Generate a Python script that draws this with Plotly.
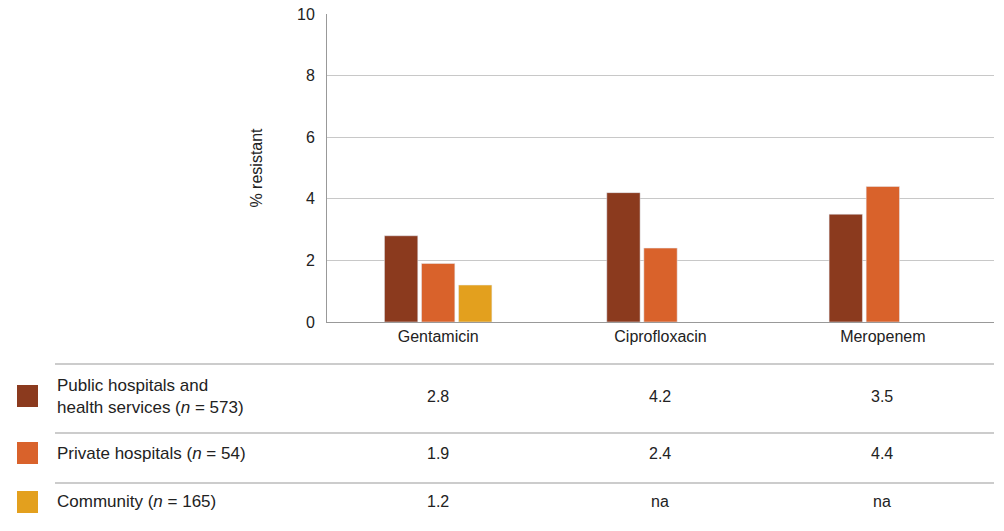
import plotly.graph_objects as go

categories = ["Gentamicin", "Ciprofloxacin", "Meropenem"]
series_names = ["Public hospitals and<br>health services (<i>n</i> = 573)",
                "Private hospitals (<i>n</i> = 54)",
                "Community (<i>n</i> = 165)"]
public_vals = [2.8, 4.2, 3.5]
private_vals = [1.9, 2.4, 4.4]
community_vals = [1.2, None, None]
colors = ["#8B3A1E", "#D9622B", "#E3A01E"]

OFF = 8  # page body margin
W, H = 1004 - OFF, 531 - OFF
L, R, T, B = 327 - OFF, 10, 6, 209
pw, ph = W - L - R, H - T - B

def px(x):  # page pixel -> paper x
    return (x - OFF - L) / pw

def py(y):  # page pixel -> paper y
    return (H - B - (y - OFF)) / ph

fig = go.Figure()
for name, vals, col in zip(series_names, [public_vals, private_vals, community_vals], colors):
    fig.add_trace(go.Bar(x=categories, y=vals, name=name, marker_color=col, showlegend=False))

fig.update_layout(
    width=W, height=H, margin=dict(l=L, r=R, t=T, b=B),
    plot_bgcolor="white", paper_bgcolor="white",
    barmode="group", bargap=0.5, bargroupgap=0.1,
    font=dict(family="Arial, Liberation Sans", size=16, color="#222"),
)
fig.update_yaxes(range=[0, 10], dtick=2, showgrid=True, gridcolor="#c8c8c8",
                 showline=True, linecolor="#999", ticks="", ticklabelstandoff=8,
                 ticklabeloverflow="allow", automargin=False,
                 title=dict(text="% resistant", font=dict(size=16), standoff=30))
fig.update_xaxes(showline=True, linecolor="#999", ticks="", tickfont=dict(size=16),
                 automargin=False)

# table below the chart
for yl in [364, 433, 483]:
    fig.add_shape(type="line", xref="paper", yref="paper", x0=px(55), x1=px(994),
                  y0=py(yl), y1=py(yl), line=dict(color="#999", width=1))
row_y = [396, 453, 502]
table_vals = [public_vals, private_vals, community_vals]
centers = [438, 660, 882]
for name, vals, col, yr in zip(series_names, table_vals, colors, row_y):
    fig.add_shape(type="rect", xref="paper", yref="paper", x0=px(17), x1=px(38),
                  y0=py(yr + 11), y1=py(yr - 11), fillcolor=col, line=dict(width=0))
    fig.add_annotation(xref="paper", yref="paper", x=px(55), y=py(yr), text=name,
                       showarrow=False, xanchor="left", yanchor="middle", align="left",
                       font=dict(size=17))
    for c, v in zip(centers, vals):
        fig.add_annotation(xref="paper", yref="paper", x=px(c), y=py(yr),
                           text="na" if v is None else f"{v:.1f}", showarrow=False,
                           xanchor="center", yanchor="middle", font=dict(size=16))

fig.write_html("out.html")
